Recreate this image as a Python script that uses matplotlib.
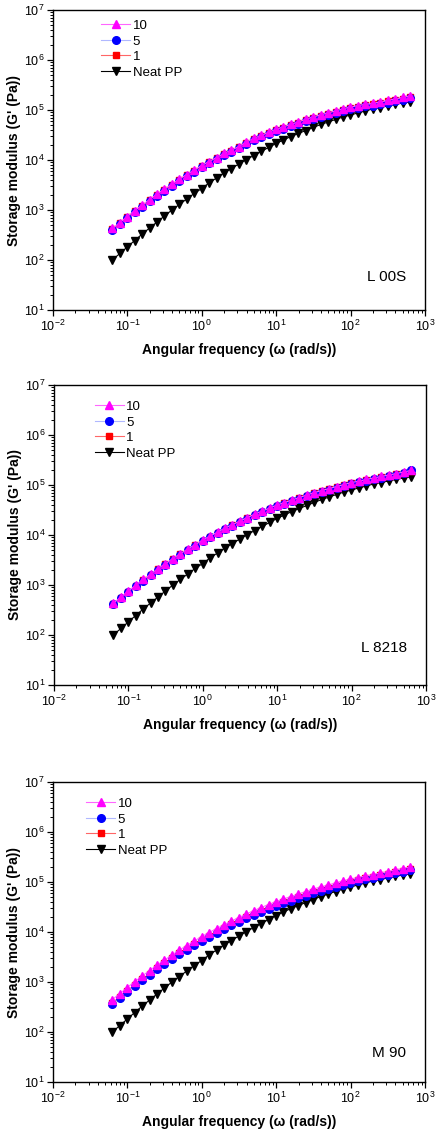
import matplotlib
matplotlib.use('Agg')
import matplotlib.pyplot as plt
from matplotlib.ticker import LogLocator, NullFormatter

plt.rcParams['font.family'] = ['Liberation Sans', 'DejaVu Sans']
plt.rcParams['mathtext.fontset'] = 'custom'
plt.rcParams['mathtext.rm'] = 'Liberation Sans'

# ── Data: angular frequency (rad/s) and storage modulus G' (Pa) ──
omega = [0.0628, 0.0791, 0.0996, 0.125, 0.158, 0.199, 0.250, 0.315, 0.397, 0.500,
         0.628, 0.791, 0.996, 1.25, 1.58, 1.99, 2.50, 3.15, 3.97, 5.00,
         6.28, 7.91, 9.96, 12.5, 15.8, 19.9, 25.0, 31.5, 39.7, 50.0,
         62.8, 79.1, 99.6, 125, 158, 199, 250, 315, 397, 500, 628]

neat_pp = [100, 135, 182, 245, 331, 437, 575, 759, 1000, 1290,
           1660, 2140, 2690, 3470, 4370, 5500, 6760, 8320, 10200, 12300,
           14800, 17800, 21400, 25100, 29500, 33900, 38900, 44700, 51300, 57500,
           64600, 72400, 79400, 87100, 95500, 105000, 112000, 120000, 129000, 138000, 145000]

# panel 1: L 00S
g10_l00s = [427, 562, 741, 977, 1260, 1620, 2090, 2630, 3310, 4170,
            5130, 6310, 7760, 9330, 11200, 13500, 15800, 18600, 22900, 27000,
            31000, 35700, 41000, 46000, 51600, 57900, 65000, 72800, 79900, 87600,
            96000, 105000, 115000, 122000, 130000, 135000, 145000, 155000, 166000, 178000, 191000]
g5_l00s = [400, 525, 690, 905, 1170, 1500, 1930, 2440, 3070, 3860,
           4750, 5850, 7190, 8640, 10400, 12500, 14600, 17200, 21200, 24900,
           28600, 32800, 37600, 42200, 47300, 53000, 59400, 66600, 73000, 79900,
           87600, 96000, 105000, 111000, 118000, 122000, 131000, 140000, 150000, 160000, 170000]
g1_l00s = [410, 540, 710, 940, 1210, 1560, 2010, 2530, 3180, 4000,
           4920, 6060, 7450, 8960, 10800, 13000, 15200, 17900, 22000, 25900,
           29700, 34100, 39200, 44100, 49400, 55400, 62200, 69700, 76500, 83900,
           92000, 101000, 110000, 117000, 124000, 129000, 138000, 148000, 158000, 168000, 180000]

# panel 2: L 8218
g10_l8218 = [436, 573, 756, 997, 1290, 1650, 2130, 2680, 3380, 4250,
             5230, 6440, 7920, 9520, 11400, 13800, 16100, 19000, 22300, 26200,
             30100, 34600, 39700, 44600, 50000, 56100, 62900, 70600, 77400, 84900,
             93000, 102000, 112000, 119000, 129000, 138000, 148000, 158000, 169000, 182000, 195000]
g5_l8218 = [415, 545, 715, 940, 1215, 1560, 2000, 2530, 3180, 4000,
            4920, 6050, 7440, 8940, 10800, 12900, 15100, 17800, 21000, 24600,
            28300, 32500, 37300, 41900, 47000, 52700, 59200, 66400, 72900, 80000,
            87800, 96300, 106000, 113000, 122000, 131000, 141000, 151000, 162000, 175000, 195000]
g1_l8218 = [425, 560, 735, 970, 1250, 1610, 2070, 2610, 3280, 4130,
            5080, 6250, 7690, 9240, 11100, 13400, 15600, 18400, 21600, 25400,
            29200, 33500, 38500, 43300, 48500, 54400, 61000, 68400, 75000, 82300,
            90200, 98900, 109000, 116000, 125000, 134000, 143000, 153000, 164000, 176000, 187000]

# panel 3: M 90
g10_m90 = [447, 589, 776, 1020, 1320, 1700, 2190, 2750, 3470, 4370,
           5370, 6610, 8130, 9770, 11700, 14100, 16600, 19500, 22900, 26900,
           30900, 35500, 40700, 45700, 51300, 57500, 64600, 72400, 79400, 87100,
           95500, 105000, 115000, 123000, 132000, 141000, 151000, 162000, 174000, 186000, 200000]
g5_m90 = [372, 490, 646, 851, 1100, 1410, 1820, 2290, 2880, 3630,
          4470, 5500, 6760, 8130, 9770, 11700, 13800, 16200, 19100, 22400,
          25700, 29500, 33900, 38000, 42700, 47900, 53700, 60300, 67600, 74100,
          81300, 89100, 97700, 107000, 115000, 123000, 132000, 141000, 151000, 162000, 174000]
g1_m90 = [383, 505, 665, 877, 1130, 1450, 1870, 2360, 2970, 3740,
          4600, 5670, 6960, 8370, 10100, 12100, 14200, 16700, 19700, 23100,
          26500, 30400, 34900, 39100, 44000, 49300, 55300, 62100, 69600, 76300,
          83700, 91800, 101000, 110000, 118000, 127000, 136000, 145000, 156000, 167000, 179000]

panels = [
    ('L 00S', g10_l00s, g5_l00s, g1_l00s, [0.1216, 0.7271, 0.853, 0.2641], (0.115, 0.985), 0.11),
    ('L 8218', g10_l8218, g5_l8218, g1_l8218, [0.1239, 0.3970, 0.853, 0.2641], (0.095, 0.965), 0.123),
    ('M 90', g10_m90, g5_m90, g1_m90, [0.1216, 0.0475, 0.853, 0.2641], (0.075, 0.965), 0.097),
]

fig = plt.figure(figsize=(4.36, 11.36), dpi=100)

for name, g10, g5, g1, pos, leg_xy, txt_y in panels:
    ax = fig.add_axes(pos)
    ax.plot(omega, neat_pp, color='black', lw=0.8, marker='v', ms=6,
            mec='black', mfc='black', label='Neat PP', zorder=2)
    ax.plot(omega, g1, color='#ff6666', lw=0.8, marker='s', ms=5,
            mec='red', mfc='red', label='1', zorder=3)
    ax.plot(omega, g5, color='#b0b8ff', lw=0.8, marker='o', ms=5.5,
            mec='blue', mfc='blue', label='5', zorder=4)
    ax.plot(omega, g10, color='#ff66ff', lw=0.8, marker='^', ms=6,
            mec='magenta', mfc='magenta', label='10', zorder=5)

    ax.set_xscale('log')
    ax.set_yscale('log')
    ax.set_xlim(1e-2, 1e3)
    ax.set_ylim(1e1, 1e7)

    ax.xaxis.set_major_locator(LogLocator(base=10, numticks=10))
    ax.yaxis.set_major_locator(LogLocator(base=10, numticks=10))
    ax.xaxis.set_minor_locator(LogLocator(base=10, subs=range(2, 10), numticks=20))
    ax.yaxis.set_minor_locator(LogLocator(base=10, subs=range(2, 10), numticks=20))
    ax.xaxis.set_minor_formatter(NullFormatter())
    ax.yaxis.set_minor_formatter(NullFormatter())
    ax.tick_params(which='major', direction='out', length=4, width=0.9,
                   labelsize=9, top=False, right=False, pad=2)
    ax.tick_params(which='minor', direction='out', length=2, width=0.7,
                   top=False, right=False)
    for s in ax.spines.values():
        s.set_linewidth(1.0)

    ax.set_xlabel('Angular frequency (\u03c9 (rad/s))', fontsize=10,
                  fontweight='bold', labelpad=7)
    ax.set_ylabel("Storage modulus (G' (Pa))", fontsize=10,
                  fontweight='bold', labelpad=2)

    handles, labels = ax.get_legend_handles_labels()
    ax.legend(handles[::-1], labels[::-1], loc='upper left', bbox_to_anchor=leg_xy,
              frameon=False, fontsize=9.5, handlelength=2.2, handletextpad=0.2,
              labelspacing=0.25, borderaxespad=0)

    ax.text(0.95, txt_y, name, transform=ax.transAxes, ha='right', va='center',
            fontsize=11)

fig.savefig('out.png', dpi=100)
